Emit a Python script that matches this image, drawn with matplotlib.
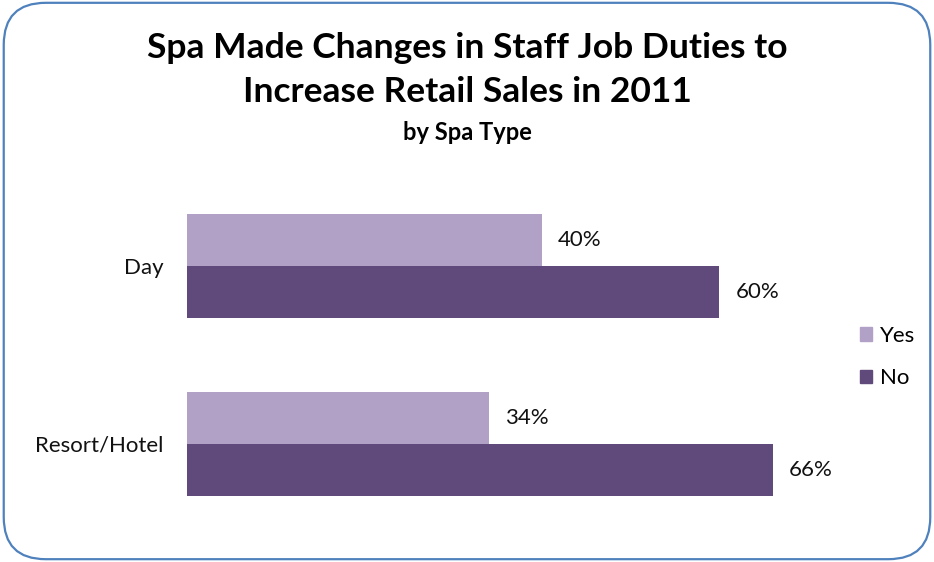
import matplotlib.pyplot as plt
from matplotlib.patches import FancyBboxPatch, Patch
import numpy as np

plt.rcParams["font.family"] = ["Lato", "DejaVu Sans"]

# Survey results by spa type
spa_types = ["Resort/Hotel", "Day"]
yes_pct = [34, 40]
no_pct = [66, 60]

yes_color = "#B2A1C7"
no_color = "#604A7B"

fig = plt.figure(figsize=(9.34, 5.62), dpi=100)

# rounded chart border
border = FancyBboxPatch((0.004, 0.005), 0.992, 0.99,
                        boxstyle="round,pad=0,rounding_size=0.045",
                        transform=fig.transFigure, fill=False,
                        edgecolor="#4F81BD", linewidth=1.6, mutation_aspect=934 / 562)
fig.patches.append(border)

ax = fig.add_axes([187 / 934, 29 / 562, 710 / 934, 356 / 562])

y = np.arange(len(spa_types))
h = 0.292
ax.barh(y + h / 2, yes_pct, height=h, color=yes_color)
ax.barh(y - h / 2, no_pct, height=h, color=no_color)

for yi, v in zip(y, yes_pct):
    ax.text(v + 1.8, yi + h / 2, f"{v}%", va="center", ha="left", fontsize=16, color="#111111")
for yi, v in zip(y, no_pct):
    ax.text(v + 1.8, yi - h / 2, f"{v}%", va="center", ha="left", fontsize=16, color="#111111")

ax.set_xlim(0, 80)
ax.set_ylim(-0.5, 1.5)
ax.set_yticks(y)
ax.set_yticklabels(spa_types, fontsize=16, color="#111111")
ax.tick_params(axis="y", length=0, pad=17)
ax.set_xticks([])
for s in ax.spines.values():
    s.set_visible(False)

fig.text(0.5, 1 - 48 / 562, "Spa Made Changes in Staff Job Duties to", ha="center", va="center",
         fontsize=25.5, fontweight="bold")
fig.text(0.5, 1 - 92 / 562, "Increase Retail Sales in 2011", ha="center", va="center",
         fontsize=25.5, fontweight="bold")
fig.text(0.5, 1 - 133 / 562, "by Spa Type", ha="center", va="center",
         fontsize=17, fontweight="bold")

handles = [Patch(color=yes_color, label="Yes"), Patch(color=no_color, label="No")]
fig.legend(handles=handles, loc="center left", bbox_to_anchor=(840 / 934, 1 - 357 / 562),
           frameon=False, fontsize=16, handlelength=0.55, handleheight=0.55,
           handletextpad=0.35, labelspacing=1.0)

fig.savefig("out.png", dpi=100)
